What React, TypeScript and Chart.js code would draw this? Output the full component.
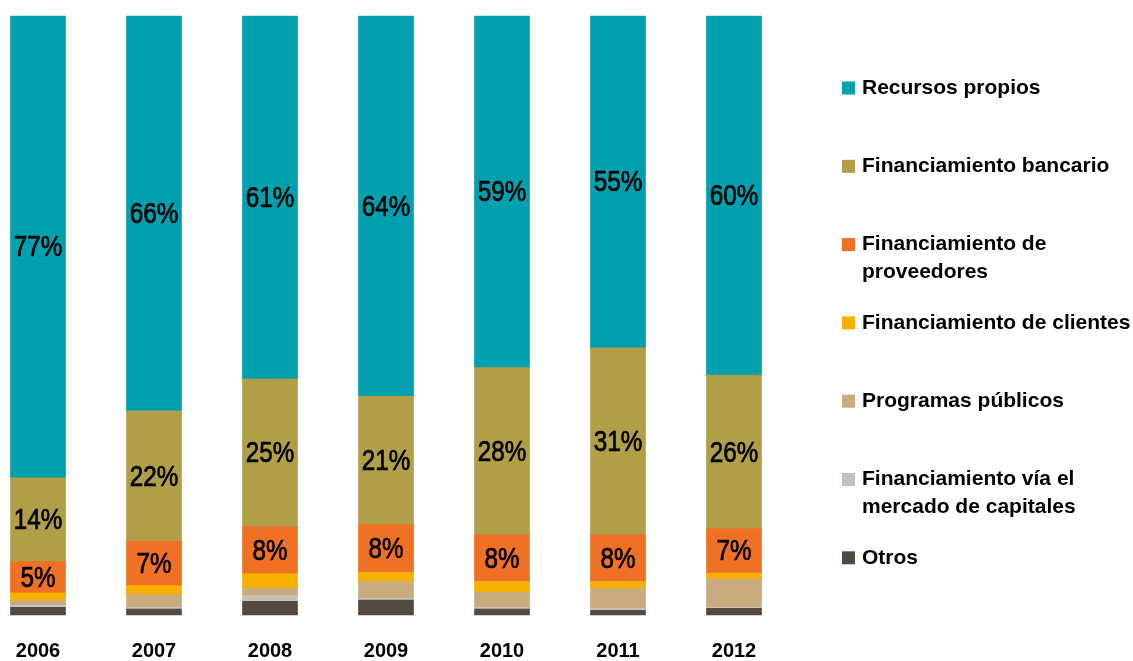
import React, { useEffect, useRef } from "react";
import { Chart, registerables } from "chart.js";

Chart.register(...registerables);

const years = ["2006", "2007", "2008", "2009", "2010", "2011", "2012"];

const recursosPropios = [77.1, 65.9, 60.6, 63.5, 58.7, 55.4, 60.0];
const financiamientoBancario = [14.0, 21.8, 24.7, 21.4, 27.9, 31.2, 25.6];
const financiamientoProveedores = [5.2, 7.4, 7.8, 8.0, 7.8, 7.8, 7.4];
const financiamientoClientes = [1.3, 1.5, 2.4, 1.5, 1.8, 1.2, 1.0];
const programasPublicos = [0.8, 2.1, 1.2, 2.8, 2.5, 3.3, 4.7];
const mercadoCapitales = [0.3, 0.3, 1.0, 0.3, 0.3, 0.3, 0.2];
const otros = [1.3, 1.0, 2.3, 2.5, 1.0, 0.8, 1.1];

// legend order (top to bottom)
const seriesLabels: (string | string[])[] = [
  "Recursos propios",
  "Financiamiento bancario",
  ["Financiamiento de", "proveedores"],
  "Financiamiento de clientes",
  "Programas públicos",
  ["Financiamiento vía el", "mercado de capitales"],
  "Otros",
];

const seriesColors = [
  "#00A0AE",
  "#B09F46",
  "#F07024",
  "#F6B000",
  "#C9AB7E",
  "#C9C1B9",
  "#544A40",
];

const labeledSeries = [0, 1, 2];

const valueLabelPlugin = {
  id: "valueLabels",
  afterDatasetsDraw(chart: any) {
    const ctx = chart.ctx;
    ctx.save();
    ctx.fillStyle = "#000";
    ctx.strokeStyle = "#000";
    ctx.lineWidth = 0.6;
    ctx.font = "25px 'Liberation Sans', Arial, sans-serif";
    ctx.textAlign = "center";
    ctx.textBaseline = "middle";
    chart.data.datasets.forEach((ds: any, di: number) => {
      if (!labeledSeries.includes(ds.seriesIndex)) return;
      const meta = chart.getDatasetMeta(di);
      const data = ds.data as number[];
      meta.data.forEach((el: any, i: number) => {
        const { x, y, base } = el.getProps(["x", "y", "base"], true);
        const cy = (y + base) / 2;
        const txt = `${Math.round(data[i])}%`;
        ctx.save();
        ctx.translate(x, cy);
        ctx.scale(0.97, 1.2);
        ctx.fillText(txt, 0, 1);
        ctx.strokeText(txt, 0, 1);
        ctx.restore();
      });
    });
    ctx.restore();
  },
};

const legendPlugin = {
  id: "sideLegend",
  afterDraw(chart: any) {
    const ctx = chart.ctx;
    const boxX = 842;
    const textX = 862;
    const firstY = 88;
    const step = 78.3;
    const lineH = 28;
    const box = 13;
    ctx.save();
    ctx.font = "bold 21px 'Liberation Sans', Arial, sans-serif";
    ctx.textBaseline = "middle";
    ctx.textAlign = "left";
    seriesLabels.forEach((label, i) => {
      const cy = firstY + i * step;
      ctx.fillStyle = seriesColors[i];
      ctx.fillRect(boxX, cy - box / 2, box, box);
      ctx.fillStyle = "#000";
      const lines = Array.isArray(label) ? label : [label];
      lines.forEach((t: string, li: number) => {
        ctx.fillText(t, textX, cy + li * lineH);
      });
    });
    ctx.restore();
  },
};

export default function App() {
  const canvasRef = useRef<HTMLCanvasElement | null>(null);

  useEffect(() => {
    if (!canvasRef.current) return;
    const allSeries = [
      recursosPropios,
      financiamientoBancario,
      financiamientoProveedores,
      financiamientoClientes,
      programasPublicos,
      mercadoCapitales,
      otros,
    ];
    // stack from bottom (Otros) to top (Recursos propios)
    const order = [6, 5, 4, 3, 2, 1, 0];
    const chart = new Chart(canvasRef.current, {
      type: "bar",
      data: {
        labels: years,
        datasets: order.map((i) => ({
          label: (Array.isArray(seriesLabels[i]) ? (seriesLabels[i] as string[]).join(" ") : seriesLabels[i]) as string,
          data: allSeries[i],
          seriesIndex: i,
          backgroundColor: seriesColors[i],
          borderWidth: 0,
          barThickness: 55,
          clip: false as any,
        })) as any,
      },
      options: {
        animation: false,
        responsive: false,
        maintainAspectRatio: false,
        layout: { padding: { top: 16, left: 38, right: 399, bottom: 0 } },
        plugins: {
          legend: { display: false },
          tooltip: { enabled: false },
        },
        scales: {
          x: {
            stacked: true,
            offset: false,
            grid: { display: false, drawTicks: false },
            border: { display: false },
            ticks: {
              color: "#000",
              padding: 24,
              font: { family: "'Liberation Sans', Arial, sans-serif", size: 20, weight: "bold" },
            },
            afterFit: (s: any) => {
              s.height = 46;
              s.paddingLeft = 0;
              s.paddingRight = 0;
            },
          },
          y: {
            stacked: true,
            display: false,
            min: 0,
            max: 100,
          },
        },
      },
      plugins: [valueLabelPlugin, legendPlugin],
    });
    return () => chart.destroy();
  }, []);

  return (
    <div
      style={{
        position: "fixed",
        left: 0,
        top: 0,
        width: 1133,
        height: 661,
        background: "#fff",
        overflow: "hidden",
      }}
    >
      <canvas ref={canvasRef} width={1133} height={661} style={{ display: "block" }} />
    </div>
  );
}
